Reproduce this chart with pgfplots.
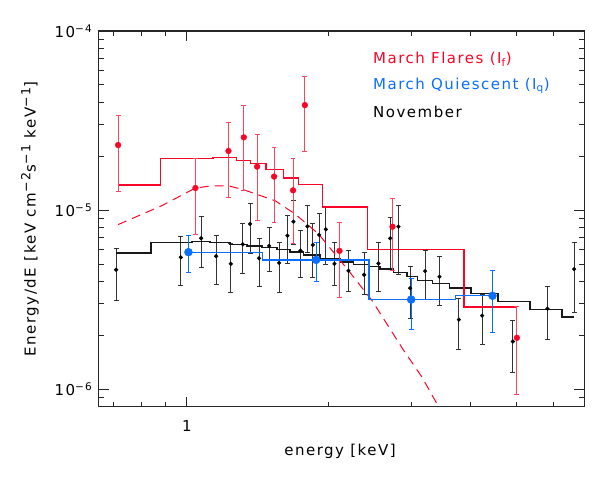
\documentclass[border=0pt]{standalone}
\usepackage{fontspec}
\setmainfont[LetterSpace=10]{DejaVu Sans}
\usepackage{pgfplots}
\pgfplotsset{compat=1.18}
\definecolor{fred}{RGB}{250,5,40}
\definecolor{fblue}{RGB}{10,110,255}
\newcommand{\sps}[1]{\textsuperscript{\fontsize{12.5bp}{12bp}\selectfont #1}}
\begin{document}
\begin{tikzpicture}[font=\fontsize{15bp}{18bp}\selectfont]
\useasboundingbox (0,0) rectangle (608bp,480bp);
\begin{axis}[
  at={(98.7bp,73.3bp)}, anchor=south west,
  width=485.6bp, height=375.7bp, scale only axis,
  xmode=log, ymode=log,
  xmin=0.65, xmax=6.98, ymin=8.0e-7, ymax=1e-4,
  xtick={1}, xticklabels={1},
  minor xtick={0.7,0.8,0.9,2,3,4,5,6},
  ytick={1e-6,1e-5,1e-4},
  yticklabels={10\textsuperscript{−6},10\textsuperscript{−5},10\textsuperscript{−4}},
  minor ytick={9e-7,2e-6,3e-6,4e-6,5e-6,6e-6,7e-6,8e-6,9e-6,2e-5,3e-5,4e-5,5e-5,6e-5,7e-5,8e-5,9e-5},
  xtick pos=both, ytick pos=both, tick align=inside,
  major tick length=10bp, minor tick length=5bp,
  axis line style={line width=1.2bp, black!85},
  every tick/.style={line width=1bp, black!85},
  xticklabel style={yshift=-10bp},
  yticklabel style={xshift=-3bp},
  /pgf/number format/assume math mode=true,
  xlabel={energy [keV]},
  xlabel style={at={(axis description cs:0.497,-0.118)}, anchor=center},
  ylabel={Energy/dE [keV cm\sps{−2}s\sps{−1} keV\sps{−1}]},
  ylabel style={at={(axis description cs:-0.1415,0.5)}, anchor=center},
]
% November data
\addplot[only marks, mark=*, mark size=1.9bp, color=black,
  error bars/.cd, y dir=both, y explicit,
  error bar style={line width=0.8bp, black!80},
  error mark options={rotate=90, mark size=2.5bp, line width=0.8bp}]
  table[x=x, y=y, y error plus expr=\thisrow{hi}-\thisrow{y}, y error minus expr=\thisrow{y}-\thisrow{lo}] {
x y hi lo
0.7078 4.65e-6 6.13e-6 3.14e-6
0.9711 5.46e-6 7.12e-6 3.80e-6
1.0724 6.97e-6 9.20e-6 4.77e-6
1.1539 5.53e-6 7.24e-6 3.87e-6
1.2400 5.02e-6 6.54e-6 3.49e-6
1.3148 6.45e-6 8.49e-6 4.42e-6
1.3625 8.38e-6 1.096e-5 5.75e-6
1.4236 5.39e-6 6.97e-6 3.75e-6
1.4951 6.32e-6 8.06e-6 4.57e-6
1.5703 5.08e-6 6.65e-6 3.46e-6
1.6355 7.21e-6 9.40e-6 5.02e-6
1.6840 8.63e-6 1.132e-5 6.43e-6
1.7427 5.95e-6 7.76e-6 4.21e-6
1.8034 8.13e-6 1.063e-5 5.85e-6
1.8516 6.40e-6 8.45e-6 4.23e-6
1.9096 7.28e-6 9.56e-6 5.28e-6
1.9728 7.82e-6 1.036e-5 4.98e-6
2.0578 5.02e-6 6.62e-6 3.82e-6
2.2033 4.59e-6 5.93e-6 3.53e-6
2.3787 4.36e-6 5.80e-6 3.39e-6
2.5513 5.04e-6 6.57e-6 3.53e-6
2.7021 6.97e-6 9.12e-6 4.65e-6
2.8138 8.09e-6 1.063e-5 4.39e-6
2.9800 3.67e-6 4.85e-6 2.50e-6
3.2059 4.57e-6 5.95e-6 3.18e-6
3.4391 4.25e-6 5.53e-6 2.95e-6
3.7797 2.45e-6 3.23e-6 1.67e-6
4.2364 2.58e-6 3.39e-6 1.79e-6
4.9215 1.85e-6 2.44e-6 1.243e-6
5.8304 2.82e-6 3.74e-6 1.905e-6
6.642 4.69e-6 6.65e-6 2.69e-6
};
% November model
\addplot[const plot, line width=1.4bp, black!90] table[x=x,y=y] {
x y
0.7078 5.78e-6
0.8386 6.60e-6
1.0248 6.71e-6
1.1206 6.60e-6
1.2357 6.45e-6
1.3408 6.32e-6
1.4429 6.19e-6
1.5528 6.05e-6
1.6571 5.85e-6
1.7685 5.61e-6
1.9187 5.37e-6
2.1161 5.15e-6
2.2584 4.99e-6
2.4293 4.85e-6
2.5727 4.69e-6
2.7457 4.49e-6
2.9310 4.28e-6
3.0869 4.05e-6
3.3221 3.89e-6
3.6105 3.67e-6
4.0141 3.42e-6
4.5736 3.10e-6
5.3567 2.79e-6
6.2545 2.53e-6
6.642 2.53e-6
};
% March flares dashed component
\addplot[fred, line width=1bp, dash pattern=on 9bp off 6bp] table[x=x,y=y] {
x y
0.7147 8.31e-6
0.8849 1.059e-5
1.043 1.33e-5
1.1317 1.368e-5
1.2256 1.368e-5
1.321 1.30e-5
1.540 1.129e-5
1.698 9.52e-6
1.903 7.38e-6
2.203 4.61e-6
2.471 3.14e-6
2.884 1.655e-6
3.154 1.175e-6
3.424 8.0e-7
};
% March flares model
\addplot[const plot, line width=1.3bp, fred] table[x=x,y=y] {
x y
0.7147 1.380e-5
0.8790 1.941e-5
1.1372 1.967e-5
1.2745 1.892e-5
1.3646 1.815e-5
1.4717 1.680e-5
1.6036 1.511e-5
1.7254 1.386e-5
1.9441 1.042e-5
2.4168 6.01e-6
3.874 2.88e-6
5.019 2.88e-6
};
% March flares data
\addplot[only marks, mark=*, mark size=2.9bp, color=fred,
  error bars/.cd, y dir=both, y explicit,
  error bar style={line width=0.9bp, fred!75},
  error mark options={rotate=90, mark size=2.4bp, line width=0.9bp}]
  table[x=x, y=y, y error plus expr=\thisrow{hi}-\thisrow{y}, y error minus expr=\thisrow{y}-\thisrow{lo}] {
x y hi lo
0.7147 2.31e-5 3.36e-5 1.28e-5
1.043 1.33e-5 1.94e-5 7.31e-6
1.2256 2.14e-5 3.10e-5 1.18e-5
1.321 2.55e-5 3.83e-5 1.29e-5
1.410 1.75e-5 2.63e-5 8.77e-6
1.532 1.54e-5 2.25e-5 8.56e-6
1.681 1.29e-5 1.95e-5 6.54e-6
1.781 3.86e-5 5.57e-5 2.13e-5
2.109 5.93e-6 8.55e-6 3.26e-6
2.733 8.09e-6 1.17e-5 4.61e-6
5.02 1.94e-6 2.90e-6 9.42e-7
};
% March quiescent model
\addplot[const plot, line width=1.3bp, fblue] table[x=x,y=y] {
x y
1.0079 5.83e-6
1.447 5.28e-6
2.438 3.17e-6
3.718 3.33e-6
4.456 3.33e-6
};
% March quiescent data
\addplot[only marks, mark=*, mark size=4bp, color=fblue,
  error bars/.cd, y dir=both, y explicit,
  error bar style={line width=0.9bp, fblue},
  error mark options={rotate=90, mark size=2.5bp, line width=0.9bp}]
  table[x=x, y=y, y error plus expr=\thisrow{hi}-\thisrow{y}, y error minus expr=\thisrow{y}-\thisrow{lo}] {
x y hi lo
1.0079 5.83e-6 7.19e-6 4.49e-6
1.8818 5.28e-6 6.57e-6 4.00e-6
2.994 3.17e-6 4.17e-6 2.16e-6
4.456 3.33e-6 4.59e-6 2.07e-6
};
\node[anchor=west, text=fred] at (axis description cs:0.558,0.9255) {March Flares (I\textsubscript{f})};
\node[anchor=west, text=fblue] at (axis description cs:0.558,0.8544) {March Quiescent (I\textsubscript{q})};
\node[anchor=west, text=black] at (axis description cs:0.558,0.7844) {November};
\end{axis}
\end{tikzpicture}
\end{document}
